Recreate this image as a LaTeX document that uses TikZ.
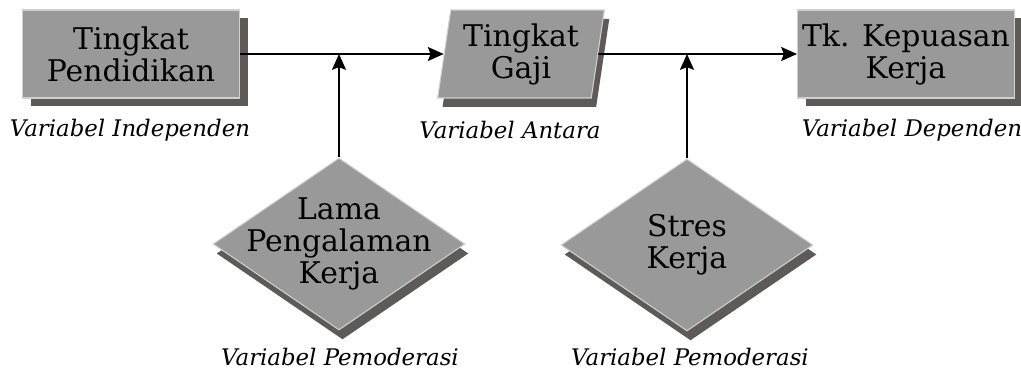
\documentclass[tikz,border=0pt]{standalone}
\usepackage{fontspec}
\setmainfont{DejaVu Serif}
\usetikzlibrary{arrows.meta, shapes.geometric, shadows, positioning}
\definecolor{facegray}{HTML}{999999}
\definecolor{shadegray}{HTML}{5F5A5A}
\definecolor{edgegray}{HTML}{D0D0D0}
\tikzset{
  varface/.style={fill=facegray, draw=edgegray, line width=0.6pt, inner sep=0pt, align=center,
    font=\fontsize{17}{18.2}\selectfont},
  varbox/.style={varface, rectangle, minimum width=4.34cm, minimum height=1.76cm,
    drop shadow={shadow xshift=5.1pt, shadow yshift=-4.6pt, fill=shadegray, opacity=1}},
  varpara/.style={varface, trapezium, trapezium left angle=80, trapezium right angle=100,
    trapezium stretches=true, minimum width=3.36cm, minimum height=1.76cm,
    drop shadow={shadow xshift=2.8pt, shadow yshift=-5.1pt, fill=shadegray, opacity=1}},
  vardiam/.style={varface, diamond, minimum width=5.04cm, minimum height=3.44cm,
    drop shadow={shadow xshift=2pt, shadow yshift=-5.4pt, fill=shadegray, opacity=1}},
  vartype/.style={font=\fontsize{13}{15}\selectfont\itshape, inner sep=0pt},
  link/.style={-{Stealth[length=9pt, width=8pt, inset=1.5pt]}, line width=0.9pt}
}

\begin{document}
\begin{tikzpicture}[x=0.02cm, y=-0.02cm]
  \useasboundingbox (0,0) rectangle (1021,373);
  \node[varbox] (pend) at (131,54) {Tingkat\\Pendidikan};
  \node[varpara] (gaji) at (521,54) {Tingkat\\Gaji};
  \node[varbox] (puas) at (906,54) {Tk. Kepuasan\\Kerja};
  \node[vardiam, label={[varface, draw=none, fill=none]center:Lama\\Pengalaman\\Kerja}] (lama) at (339,244) {};
  \node[vardiam, label={[varface, draw=none, fill=none]center:Stres\\Kerja}] (stres) at (687,245) {};

  \node[vartype] (tIndep) at (130,130) {Variabel Independen};
  \node[vartype] (tAntara) at (510,130) {Variabel Antara};
  \node[vartype] (tDep) at (912,130) {Variabel Dependen};
  \node[vartype] (tMod1) at (340,357) {Variabel Pemoderasi};
  \node[vartype] (tMod2) at (690,357) {Variabel Pemoderasi};

  \draw[link] (pend.east) -- (gaji.west);
  \draw[link] (gaji.east) -- (puas.west);
  \draw[link] (lama.north) -- (lama.north |- pend.east);
  \draw[link] (stres.north) -- (stres.north |- gaji.east);
\end{tikzpicture}
\end{document}
